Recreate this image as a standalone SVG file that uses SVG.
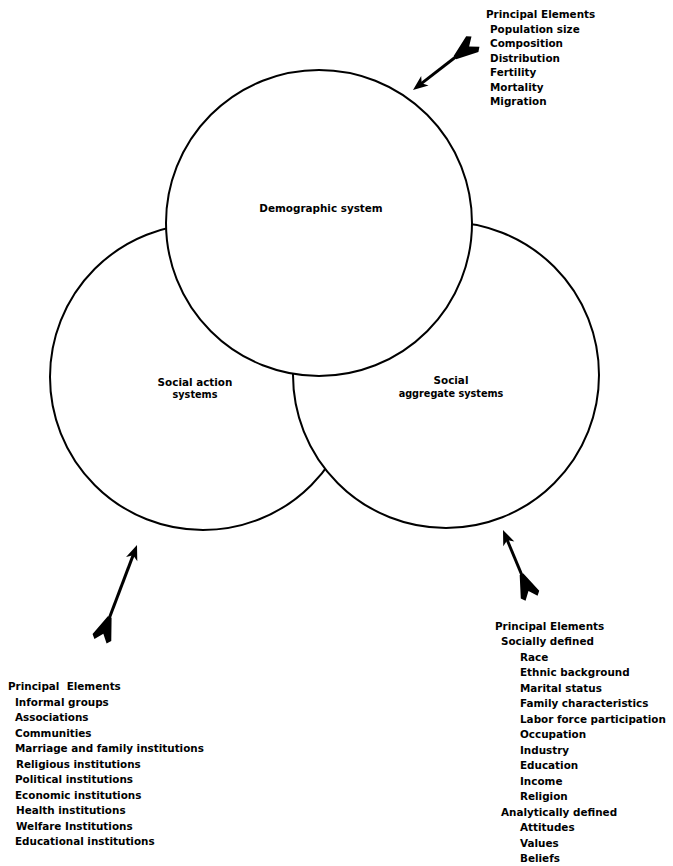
<svg xmlns="http://www.w3.org/2000/svg" width="673" height="866" viewBox="0 0 673 866">
<style>
.c{fill:#fff;stroke:#000;stroke-width:2}
text{font-family:"DejaVu Sans","Liberation Sans",sans-serif;font-weight:bold;font-size:10.4px;fill:#000}
.m{text-anchor:middle}
.s{font-size:9.7px}
.shaft{stroke:#000;stroke-width:3;fill:none}
.tip{fill:#000}
</style>
<rect width="673" height="866" fill="#fff"/>
<g id="social-action">
<circle class="c" cx="203" cy="377" r="153"/>
<text class="m" x="195" y="386">Social action</text>
<text class="m s" x="195" y="398">systems</text>
</g>
<g id="social-aggregate">
<circle class="c" cx="446" cy="375" r="153"/>
<text class="m" x="451" y="384">Social</text>
<text class="m s" x="451" y="397">aggregate systems</text>
</g>
<g id="demographic">
<circle class="c" cx="319" cy="223" r="153"/>
<text class="m" x="321" y="212">Demographic system</text>
</g>
<g id="elements-demographic">
<text x="486" y="18">Principal Elements</text>
<text x="490" y="32.5">Population size</text>
<text x="490" y="47">Composition</text>
<text x="490" y="61.5">Distribution</text>
<text x="490" y="76">Fertility</text>
<text x="490" y="90.5">Mortality</text>
<text x="490" y="105">Migration</text>
</g>
<g id="elements-action">
<text x="8" y="690" xml:space="preserve">Principal  Elements</text>
<text x="15" y="705.5">Informal groups</text>
<text x="15" y="721">Associations</text>
<text x="15" y="736.5">Communities</text>
<text x="15" y="752">Marriage and family institutions</text>
<text x="16" y="767.5">Religious institutions</text>
<text x="15" y="783">Political institutions</text>
<text x="15" y="798.5">Economic institutions</text>
<text x="16" y="814">Health institutions</text>
<text x="16" y="829.5">Welfare Institutions</text>
<text x="15" y="845">Educational institutions</text>
</g>
<g id="elements-aggregate">
<text x="495" y="629.5">Principal Elements</text>
<text x="501" y="645">Socially defined</text>
<text x="520" y="660.5">Race</text>
<text x="520" y="676">Ethnic background</text>
<text x="520" y="691.5">Marital status</text>
<text x="520" y="707">Family characteristics</text>
<text x="520" y="722.5">Labor force participation</text>
<text x="520" y="738">Occupation</text>
<text x="520" y="753.5">Industry</text>
<text x="520" y="769">Education</text>
<text x="520" y="784.5">Income</text>
<text x="520" y="800">Religion</text>
<text x="501" y="815.5">Analytically defined</text>
<text x="520" y="831">Attitudes</text>
<text x="520" y="846.5">Values</text>
<text x="520" y="862">Beliefs</text>
</g>
<g id="connectors">
<g transform="translate(413,90) rotate(-37.75)">
<line class="shaft" x1="10" y1="0" x2="60" y2="0"/>
<path class="tip" d="M0,0 L15,-6 L11,0 L15,6 Z"/>
<path class="tip" d="M53,-2 L75,-10 L79,-6.5 L71,0 L79,6.5 L75,10 L53,2 Z"/>
</g>
<g transform="translate(137,545) rotate(110.75)">
<line class="shaft" x1="10" y1="0" x2="84" y2="0"/>
<path class="tip" d="M0,0 L15,-6 L11,0 L15,6 Z"/>
<path class="tip" d="M77,-2 L99,-10 L103,-6.5 L95,0 L103,6.5 L99,10 L77,2 Z"/>
</g>
<g transform="translate(503,530) rotate(67.3)">
<line class="shaft" x1="10" y1="0" x2="55" y2="0"/>
<path class="tip" d="M0,0 L15,-6 L11,0 L15,6 Z"/>
<path class="tip" d="M48,-2 L70,-10 L74,-6.5 L66,0 L74,6.5 L70,10 L48,2 Z"/>
</g>
</g>
</svg>
